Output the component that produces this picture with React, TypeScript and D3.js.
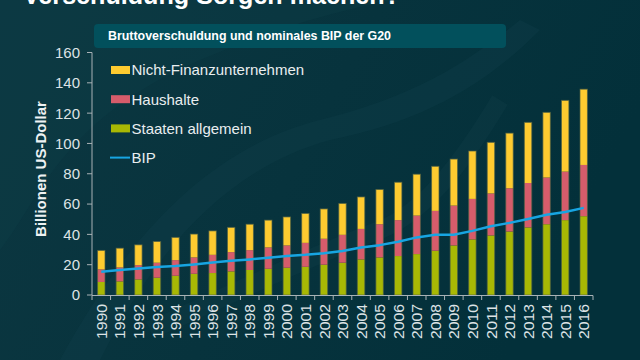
import React from "react";
import * as d3 from "d3";

const years = ["1990","1991","1992","1993","1994","1995","1996","1997","1998","1999","2000","2001","2002","2003","2004","2005","2006","2007","2008","2009","2010","2011","2012","2013","2014","2015","2016"];
const staaten = [8.6, 9.0, 10.3, 11.4, 12.7, 14.0, 14.5, 15.6, 16.5, 17.3, 18.0, 18.6, 20.0, 21.3, 23.5, 24.8, 25.7, 27.0, 29.2, 32.7, 36.7, 39.3, 41.9, 44.6, 46.7, 49.4, 52.0];
const haushalte = [8.3, 9.2, 9.4, 9.9, 10.3, 10.8, 12.0, 12.7, 13.1, 14.1, 14.7, 15.8, 17.1, 18.4, 20.1, 21.9, 23.7, 25.4, 26.3, 26.3, 26.7, 27.7, 28.5, 29.3, 30.8, 32.0, 33.8];
const nichtFinanz = [12.5, 12.7, 13.4, 14.0, 15.0, 15.4, 15.8, 16.3, 17.1, 18.0, 18.8, 19.4, 19.7, 20.7, 21.1, 22.9, 25.0, 27.3, 29.4, 30.7, 31.6, 33.7, 36.4, 40.0, 43.0, 47.0, 50.0];
const bip = [15.4, 16.5, 17.5, 18.4, 19.1, 20.2, 21.5, 22.6, 23.5, 24.6, 25.7, 26.5, 27.6, 29.0, 31.4, 32.9, 35.1, 38.0, 39.7, 39.7, 42.3, 45.4, 47.6, 50.2, 52.9, 54.8, 57.5];
const yTicks = [0, 20, 40, 60, 80, 100, 120, 140, 160];
const seriesColors = ["#a8b804", "#d65c6b", "#fecb30"];
const legendItems = ["Nicht-Finanzunternehmen", "Haushalte", "Staaten allgemein", "BIP"];

const W = 640, H = 360;
const FONT = "'Liberation Sans', Arial, sans-serif";

export default function App() {
  const x = d3.scaleBand<string>().domain(years).range([92, 593]).paddingInner(0.6).paddingOuter(0.3);
  const y = d3.scaleLinear().domain([0, 160]).range([295, 52.5]);
  const rows = years.map((yr, i) => ({ year: yr, s0: staaten[i], s1: haushalte[i], s2: nichtFinanz[i] }));
  const stack = d3.stack<any>().keys(["s0", "s1", "s2"]);
  const layers = stack(rows);
  const step = x.step();
  const x0 = 92;
  const boundaries = d3.range(years.length + 1).map((i) => x0 + i * step);
  const line = d3.line<number>().x((_, i) => (x(years[i]) as number) + x.bandwidth() / 2).y((d) => y(d));
  const legendColors: Record<string, string> = {
    "Nicht-Finanzunternehmen": seriesColors[2],
    "Haushalte": seriesColors[1],
    "Staaten allgemein": seriesColors[0],
  };

  return (
    <svg width={W} height={H} style={{ position: "absolute", left: 0, top: 0, display: "block" }} fontFamily={FONT}>
      <defs>
        <linearGradient id="bg" x1="0" y1="0" x2="1" y2="0.3">
          <stop offset="0" stopColor="#0c3741" />
          <stop offset="0.55" stopColor="#07333d" />
          <stop offset="1" stopColor="#03303a" />
        </linearGradient>
      </defs>
      <rect x={0} y={0} width={W} height={H} fill="url(#bg)" />
      <path d="M60,360 C120,250 200,150 320,120 C420,95 470,60 520,20 L540,30 C490,80 430,120 330,140 C220,170 150,260 100,360 Z" fill="#10404a" opacity={0.35} />
      <path d="M0,250 C40,200 60,120 200,60 C260,35 300,20 390,0 L0,0 Z" fill="#0f3e48" opacity={0.35} />
      <path d="M150,330 C220,300 300,260 380,230 C430,210 470,150 500,100" stroke="#0e3c46" strokeWidth={18} fill="none" opacity={0.4} />

      {/* Title (cut off at top, as in the reference) */}
      <text x={23} y={4} fill="#ffffff" fontSize={26} fontWeight="bold" textLength={377} lengthAdjust="spacingAndGlyphs">Verschuldung Sorgen machen?</text>

      {/* Subtitle box */}
      <rect x={94} y={24} width={412} height={24} rx={4} fill="#02505c" />
      <text x={108} y={40} fill="#ffffff" fontSize={12} fontWeight="bold" fontFamily="'Liberation Sans Narrow', 'Liberation Sans', Arial, sans-serif" textLength={283} lengthAdjust="spacingAndGlyphs">Bruttoverschuldung und nominales BIP der G20</text>

      {/* Y axis */}
      <line x1={92} x2={92} y1={y(160)} y2={y(0)} stroke="#a9b2b6" strokeWidth={1} />
      {yTicks.map((t) => (
        <g key={t}>
          <line x1={87} x2={92} y1={y(t)} y2={y(t)} stroke="#a9b2b6" strokeWidth={1} />
          <text x={80} y={y(t)} dy="0.36em" textAnchor="end" fill="#dde3e6" fontSize={15}>{t}</text>
        </g>
      ))}
      <text transform={`translate(46,169) rotate(-90)`} textAnchor="middle" fill="#eef2f3" fontSize={15} fontWeight="bold">Billionen US-Dollar</text>

      {/* Bars */}
      {layers.map((layer, li) => (
        <g key={li} fill={seriesColors[li]}>
          {layer.map((d, i) => (
            <rect key={i} x={x(years[i])} y={y(d[1])} width={x.bandwidth()} height={y(d[0]) - y(d[1])} />
          ))}
        </g>
      ))}
      {rows.map((r, i) => (
        <rect key={"o" + i} x={x(r.year)} y={y(r.s0 + r.s1 + r.s2)} width={x.bandwidth()} height={y(0) - y(r.s0 + r.s1 + r.s2)} fill="none" stroke="#4f5f45" strokeOpacity={0.7} strokeWidth={1} />
      ))}

      {/* BIP line */}
      <path d={line(bip) || ""} fill="none" stroke="#17a5e2" strokeWidth={2.5} strokeLinejoin="round" />

      {/* X axis */}
      <line x1={x0} x2={593} y1={295.5} y2={295.5} stroke="#a9b2b6" strokeWidth={1} />
      {boundaries.map((bx, i) => (
        <line key={i} x1={bx} x2={bx} y1={295.5} y2={300} stroke="#a9b2b6" strokeWidth={1} />
      ))}
      {years.map((yr) => (
        <text key={yr} transform={`translate(${(x(yr) as number) + x.bandwidth() / 2},304) rotate(-90)`} textAnchor="end" dy="0.36em" fill="#dde3e6" fontSize={15.5} textLength={35} lengthAdjust="spacingAndGlyphs">{yr}</text>
      ))}

      {/* Legend */}
      {legendItems.map((name, i) => {
        const cy = 70 + i * 29.2;
        return (
          <g key={name}>
            {name === "BIP" ? (
              <line x1={110} x2={130} y1={cy} y2={cy} stroke="#17a5e2" strokeWidth={2} />
            ) : (
              <rect x={111} y={cy - 4} width={19} height={8} fill={legendColors[name]} />
            )}
            <text x={131.5} y={cy + 5.3} fill="#e9eef0" fontSize={15}>{name}</text>
          </g>
        );
      })}
    </svg>
  );
}
